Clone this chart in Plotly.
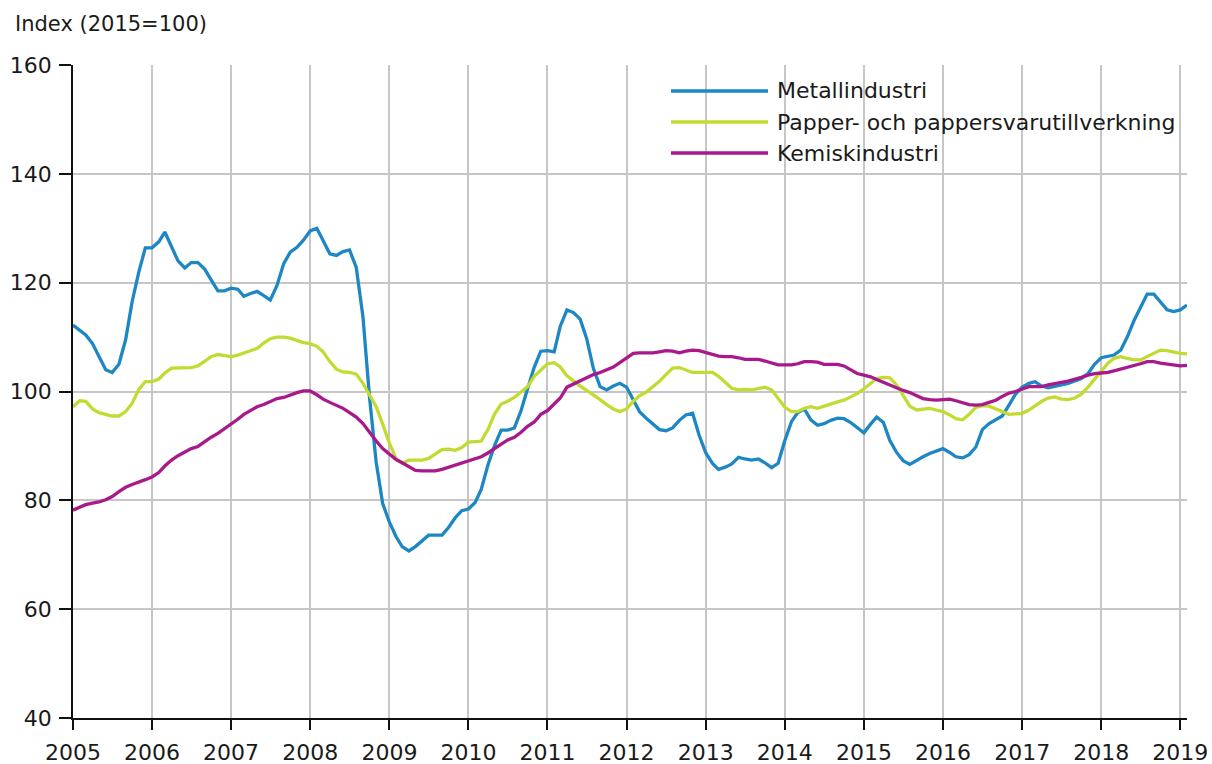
import plotly.graph_objects as go
import pandas as pd

# ---- data (monthly index, 2015=100), Jan 2005 .. Feb 2019 ----
start_month = "2005-01-01"
n_months = 170
year_ticks = list(range(2005, 2020))
y_ticks = [40, 60, 80, 100, 120, 140, 160]

series_names = ["Metallindustri", "Papper- och pappersvarutillverkning", "Kemiskindustri"]

metall = [
    112.2, 111.3, 110.4, 108.8, 106.5, 104.0, 103.5, 105.0, 109.5, 116.5, 122.0, 126.4,  # 2005
    126.4, 127.5, 129.3, 126.5, 124.0, 122.7, 123.7, 123.7, 122.5, 120.5, 118.5, 118.5,  # 2006
    119.0, 118.8, 117.5, 118.0, 118.4, 117.6, 116.8, 119.5, 123.5, 125.6, 126.5, 127.8,  # 2007
    129.5, 130.0, 127.8, 125.3, 125.0, 125.7, 126.0, 122.8, 113.7, 99.0, 87.0, 79.4,     # 2008
    76.0, 73.3, 71.5, 70.7, 71.5, 72.6, 73.6, 73.6, 73.6, 75.0, 76.8, 78.1,              # 2009
    78.4, 79.6, 82.0, 86.5, 90.0, 92.9, 92.9, 93.3, 96.5, 100.5, 104.5, 107.4,           # 2010
    107.5, 107.3, 112.0, 115.0, 114.5, 113.3, 109.7, 104.2, 100.9, 100.3, 101.0, 101.5,  # 2011
    100.8, 98.5, 96.3, 95.1, 94.0, 93.0, 92.8, 93.3, 94.7, 95.7, 96.0, 92.0,             # 2012
    88.7, 86.8, 85.7, 86.1, 86.7, 87.9, 87.6, 87.4, 87.6, 86.9, 86.0, 86.8,              # 2013
    91.0, 94.5, 96.1, 96.8, 94.8, 93.8, 94.1, 94.7, 95.1, 95.0, 94.3, 93.3,              # 2014
    92.4, 94.0, 95.3, 94.3, 91.0, 88.8, 87.3, 86.6, 87.4, 88.0, 88.6, 89.0,              # 2015
    89.5, 88.8, 88.0, 87.8, 88.4, 89.8, 93.0, 94.1, 94.8, 95.5, 97.5, 99.5,              # 2016
    100.8, 101.5, 101.8, 101.0, 100.7, 100.9, 101.2, 101.5, 101.9, 102.4, 103.3, 105.0,  # 2017
    106.2, 106.4, 106.7, 107.6, 110.0, 113.0, 115.5, 117.9, 117.9, 116.4, 115.0, 114.7,  # 2018
    115.0, 115.9,                                                                        # 2019
]

papper = [
    97.2, 98.3, 98.2, 96.8, 96.1, 95.8, 95.5, 95.5, 96.3, 97.8, 100.4, 101.8,
    101.8, 102.3, 103.4, 104.3, 104.3, 104.3, 104.4, 104.7, 105.6, 106.4, 106.8, 106.6,
    106.4, 106.7, 107.1, 107.4, 107.9, 108.9, 109.7, 110.0, 110.0, 109.8, 109.4, 109.0,
    108.8, 108.3, 107.3, 105.5, 104.1, 103.6, 103.5, 103.2, 101.5, 99.5, 97.2, 94.0,
    90.5, 87.6, 86.8, 87.4, 87.4, 87.4, 87.7, 88.5, 89.3, 89.4, 89.2, 89.7,
    90.7, 90.8, 90.9, 93.0, 95.8, 97.7, 98.2, 98.9, 100.0, 100.9, 102.8, 103.9,
    105.1, 105.3, 104.5, 102.9, 101.9, 101.0, 100.2, 99.4, 98.5, 97.6, 96.8, 96.3,
    96.8, 98.2, 99.2, 99.9, 100.9, 101.9, 103.1, 104.3, 104.4, 103.9, 103.5, 103.5,
    103.5, 103.5, 102.8, 101.6, 100.6, 100.3, 100.4, 100.3, 100.6, 100.8, 100.3, 98.8,
    97.1, 96.3, 96.3, 96.9, 97.2, 96.9, 97.3, 97.8, 98.1, 98.4, 99.0, 99.6,
    100.5, 101.4, 102.4, 102.6, 102.5, 101.2, 99.2, 97.3, 96.6, 96.8, 96.9, 96.6,
    96.3, 95.7, 95.0, 94.8, 95.8, 97.1, 97.4, 97.3, 96.8, 96.2, 95.8, 95.9,
    96.0, 96.6, 97.4, 98.2, 98.8, 99.0, 98.6, 98.5, 98.8, 99.5, 100.8, 102.2,
    103.7, 105.2, 106.1, 106.4, 106.1, 105.8, 105.8, 106.4, 107.0, 107.6, 107.5, 107.2,
    107.0, 106.9,
]

kemisk = [
    78.2, 78.8, 79.2, 79.5, 79.7, 80.1, 80.7, 81.6, 82.4, 82.9, 83.3, 83.8,
    84.3, 85.1, 86.3, 87.4, 88.2, 88.9, 89.5, 89.9, 90.8, 91.6, 92.3, 93.1,
    94.1, 94.9, 95.8, 96.6, 97.2, 97.6, 98.2, 98.7, 98.9, 99.4, 99.8, 100.1,
    100.1, 99.4, 98.6, 98.0, 97.4, 96.9, 96.1, 95.3, 94.1, 92.5, 90.9, 89.5,
    88.4, 87.5, 86.9, 86.2, 85.5, 85.4, 85.4, 85.4, 85.7, 86.1, 86.5, 86.9,
    87.3, 87.6, 88.0, 88.7, 89.5, 90.3, 91.1, 91.6, 92.5, 93.6, 94.4, 95.8,
    96.5, 97.7, 98.8, 100.8, 101.4, 101.9, 102.6, 103.1, 103.5, 104.0, 104.5, 105.3,
    106.2, 107.0, 107.1, 107.1, 107.1, 107.3, 107.5, 107.4, 107.1, 107.4, 107.6, 107.5,
    107.1, 106.7, 106.5, 106.4, 106.4, 106.2, 105.9, 105.9, 105.9, 105.6, 105.3, 104.9,
    104.9, 104.9, 105.1, 105.5, 105.5, 105.4, 105.0, 105.0, 105.0, 104.7, 104.0, 103.3,
    103.0, 102.7, 102.2, 101.7, 101.1, 100.6, 100.2, 99.8, 99.2, 98.7, 98.5, 98.4,
    98.5, 98.6, 98.3, 98.0, 97.6, 97.5, 97.6, 98.0, 98.4, 99.1, 99.7, 100.0,
    100.4, 100.9, 100.9, 100.9, 101.2, 101.5, 101.7, 101.9, 102.2, 102.6, 103.0, 103.3,
    103.4, 103.5, 103.8, 104.1, 104.4, 104.7, 105.1, 105.5, 105.5, 105.2, 105.0, 104.8,
    104.7, 104.8,
]

colors = ["#1d87c3", "#c3da32", "#a8198c"]

# ---- figure ----
months = pd.date_range(start_month, periods=n_months, freq="MS")
FONT = "DejaVu Sans, Verdana, sans-serif"
TXT = "#1a1a1a"

fig = go.Figure()
for name, vals, col in zip(series_names, [metall, papper, kemisk], colors):
    fig.add_trace(go.Scatter(x=months, y=vals, mode="lines", name=name,
                             line=dict(color=col, width=3.3), showlegend=False,
                             cliponaxis=False))

# manual legend (long line samples like the reference)
leg_y = [0.9602, 0.9127, 0.8652]
for name, col, yy in zip(series_names, colors, leg_y):
    fig.add_shape(type="line", xref="paper", yref="paper", x0=0.5368, x1=0.6239,
                  y0=yy, y1=yy, line=dict(color=col, width=3.4))
    fig.add_annotation(xref="paper", yref="paper", x=0.630, y=yy, text=name,
                       showarrow=False, xanchor="left", yanchor="middle",
                       font=dict(family=FONT, size=22, color=TXT))

fig.add_annotation(xref="paper", yref="paper", x=-0.054, y=1.0628,
                   text="Index (2015=100)", showarrow=False,
                   xanchor="left", yanchor="middle",
                   font=dict(family=FONT, size=21, color=TXT))

fig.update_layout(
    width=1212, height=764,
    margin=dict(l=73, r=25, t=65, b=46, autoexpand=False),
    paper_bgcolor="white", plot_bgcolor="white",
    font=dict(family=FONT, size=22, color=TXT),
    xaxis=dict(
        type="date",
        range=[months[0], months[-1]],
        tickmode="array",
        tickvals=[pd.Timestamp(f"{y}-01-01") for y in year_ticks],
        ticktext=[str(y) for y in year_ticks],
        ticks="outside", ticklen=10, tickwidth=1.6, tickcolor="#111",
        ticklabelstandoff=4,
        showgrid=True, gridcolor="#c6c6c6", gridwidth=1.6,
        showline=True, linecolor="#111", linewidth=1.8,
        zeroline=False, automargin=False,
        tickfont=dict(family=FONT, size=22, color=TXT),
    ),
    yaxis=dict(
        range=[40, 160],
        tickmode="array", tickvals=y_ticks, ticktext=[str(v) for v in y_ticks],
        ticks="outside", ticklen=12, tickwidth=1.6, tickcolor="#111",
        ticklabelstandoff=3,
        showgrid=True, gridcolor="#c6c6c6", gridwidth=1.6,
        showline=True, linecolor="#111", linewidth=1.8,
        zeroline=False, automargin=False,
        tickfont=dict(family=FONT, size=22, color=TXT),
    ),
)

fig.write_html("out.html",
               config={"displayModeBar": False},
               post_script="document.body.style.margin='0';document.body.style.padding='0';")
